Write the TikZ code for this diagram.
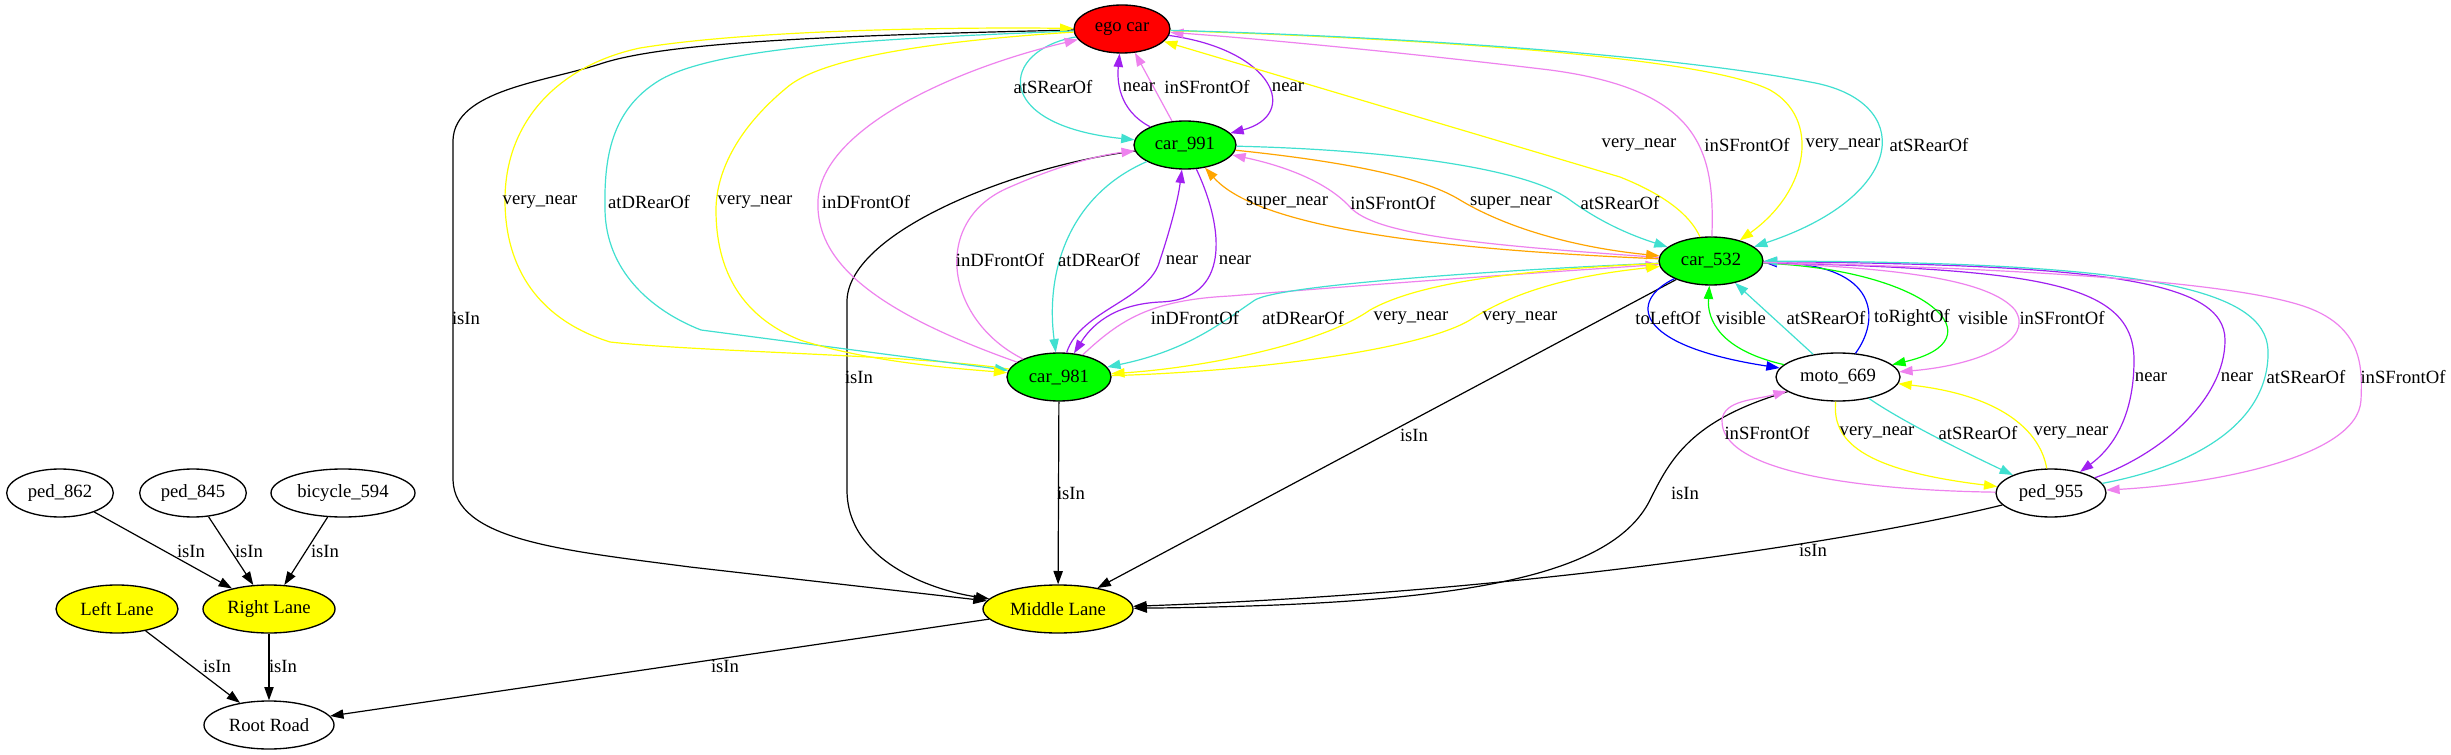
\documentclass[tikz,border=0pt]{standalone}
\usepackage{fontspec}
\setmainfont{Liberation Serif}
\usepackage{tikz}
\usetikzlibrary{shapes.geometric, arrows.meta}
\definecolor{gvred}{RGB}{255,0,0}
\definecolor{gvgreen}{RGB}{0,255,0}
\definecolor{gvyellow}{RGB}{255,255,0}
\definecolor{gvturq}{RGB}{64,224,208}
\definecolor{gvviolet}{RGB}{238,130,238}
\definecolor{gvpurple}{RGB}{160,32,240}
\definecolor{gvorange}{RGB}{255,165,0}
\definecolor{gvblue}{RGB}{0,0,255}
\tikzset{
obj/.style={ellipse, draw, line width=1pt, inner sep=0pt, minimum height=36pt, font=\fontsize{14}{16}\selectfont}, % every object of the scene
lbl/.style={inner sep=0pt, font=\fontsize{14}{16}\selectfont}, % text on a relation
rel/.style={-{Triangle[length=10pt,width=7pt]}, line width=0.9pt}, % a relation between two objects
}
\begin{document}
\begin{tikzpicture}[x=0.75pt, y=-0.75pt]
  \path[use as bounding box, fill=white] (0,0) rectangle (2451,755);

  % objects
  \node[obj, fill=gvred, minimum width=72pt] (ego) at (1122,29) {ego car};
  \node[obj, fill=gvgreen, minimum width=76.5pt] (car991) at (1185,145) {car\_991};
  \node[obj, fill=gvgreen, minimum width=78pt] (car532) at (1711,261) {car\_532};
  \node[obj, fill=gvgreen, minimum width=78pt] (car981) at (1059,377) {car\_981};
  \node[obj, minimum width=93pt] (moto669) at (1838,377) {moto\_669};
  \node[obj, minimum width=82.5pt] (ped955) at (2051,493) {ped\_955};
  \node[obj, fill=gvyellow, minimum width=112.5pt] (midlane) at (1058,609) {Middle Lane};
  \node[obj, minimum width=80pt] (ped862) at (60,493) {ped\_862};
  \node[obj, minimum width=80pt] (ped845) at (193,493) {ped\_845};
  \node[obj, minimum width=108pt] (bike594) at (343,493) {bicycle\_594};
  \node[obj, fill=gvyellow, minimum width=91.5pt] (leftlane) at (117,609) {Left Lane};
  \node[obj, fill=gvyellow, minimum width=99pt] (rightlane) at (269,609) {Right Lane};
  \node[obj, minimum width=97.5pt] (rootroad) at (269,725) {Root Road};

  % isIn
  \draw[rel] (ego) .. controls (800,36) and (660,44) .. (600,64) .. controls (545,82) and (455,90) .. (453,140) -- (453,480) .. controls (455,540) and (560,550) .. (690,567) -- (midlane);
  \draw[rel] (car991) .. controls (1020,165) and (850,230) .. (847,300) -- (847,490) .. controls (847,560) and (930,590) .. (midlane);
  \draw[rel] (car981) -- (midlane);
  \draw[rel] (car532) -- (midlane);
  \draw[rel] (moto669) .. controls (1690,420) and (1670,460) .. (1650,500) .. controls (1610,580) and (1450,605) .. (midlane);
  \draw[rel] (ped955) .. controls (1860,540) and (1530,592) .. (midlane);
  \draw[rel] (ped862) -- (rightlane);
  \draw[rel] (ped845) -- (rightlane);
  \draw[rel] (bike594) -- (rightlane);
  \draw[rel] (leftlane) -- (rootroad);
  \draw[rel] (rightlane) -- (rootroad);
  \draw[rel] (midlane) -- (rootroad);

  % ego car and car_991
  \draw[rel, gvturq] (ego) .. controls (1000,50) and (990,125) .. (car991); % atSRearOf
  \draw[rel, gvpurple] (car991) .. controls (1118,110) and (1117,80) .. (ego); % near
  \draw[rel, gvviolet] (car991) -- (ego); % inSFrontOf
  \draw[rel, gvpurple] (ego) .. controls (1275,50) and (1300,115) .. (car991); % near

  % ego car and car_532
  \draw[rel, gvyellow] (car532) .. controls (1690,215) and (1665,195) .. (1620,177) -- (ego); % very_near
  \draw[rel, gvviolet] (car532) .. controls (1715,150) and (1700,90) .. (1550,70) .. controls (1400,52) and (1250,38) .. (ego); % inSFrontOf
  \draw[rel, gvyellow] (ego) .. controls (1400,38) and (1700,55) .. (1770,90) .. controls (1820,118) and (1810,190) .. (car532); % very_near
  \draw[rel, gvturq] (ego) .. controls (1450,38) and (1700,60) .. (1810,82) .. controls (1915,100) and (1910,195) .. (car532); % atSRearOf

  % car_991 and car_532
  \draw[rel, gvorange] (car532) .. controls (1450,250) and (1260,230) .. (car991); % super_near
  \draw[rel, gvviolet] (car532) .. controls (1480,245) and (1375,235) .. (1350,207) .. controls (1325,180) and (1280,165) .. (car991); % inSFrontOf
  \draw[rel, gvorange] (car991) .. controls (1330,160) and (1420,175) .. (1460,200) .. controls (1510,230) and (1580,248) .. (car532); % super_near
  \draw[rel, gvturq] (car991) .. controls (1400,150) and (1530,170) .. (1570,200) .. controls (1600,222) and (1630,235) .. (car532); % atSRearOf

  % car_991 and car_981
  \draw[rel, gvviolet] (car981) .. controls (945,320) and (930,220) .. (1010,187) .. controls (1060,165) and (1100,155) .. (car991); % inDFrontOf
  \draw[rel, gvturq] (car991) .. controls (1070,195) and (1045,270) .. (car981); % atDRearOf
  \draw[rel, gvpurple] (car981) .. controls (1080,310) and (1150,300) .. (1160,260) .. controls (1170,230) and (1178,200) .. (car991); % near
  \draw[rel, gvpurple] (car991) .. controls (1225,230) and (1230,300) .. (1160,302) .. controls (1120,304) and (1095,320) .. (car981); % near

  % ego car and car_981
  \draw[rel, gvyellow] (car981) .. controls (920,355) and (700,352) .. (610,342) .. controls (540,320) and (505,270) .. (505,200) .. controls (505,120) and (560,65) .. (640,48) .. controls (750,30) and (950,27) .. (ego); % very_near
  \draw[rel, gvturq] (ego) .. controls (900,38) and (720,45) .. (660,80) .. controls (610,110) and (604,160) .. (605,210) .. controls (606,270) and (650,310) .. (701,330) -- (car981); % atDRearOf
  \draw[rel, gvyellow] (ego) .. controls (950,40) and (830,55) .. (790,85) .. controls (740,125) and (716,170) .. (716,210) .. controls (716,280) and (750,320) .. (800,340) .. controls (870,362) and (950,368) .. (car981); % very_near
  \draw[rel, gvviolet] (car981) .. controls (870,310) and (815,260) .. (818,200) .. controls (822,130) and (950,70) .. (ego); % inDFrontOf

  % car_981 and car_532
  \draw[rel, gvviolet] (car981) .. controls (1120,320) and (1150,300) .. (1230,296) .. controls (1400,282) and (1550,272) .. (car532); % inDFrontOf
  \draw[rel, gvturq] (car532) .. controls (1500,270) and (1280,285) .. (1255,300) .. controls (1225,320) and (1190,350) .. (car981); % atDRearOf
  \draw[rel, gvyellow] (car532) .. controls (1520,270) and (1420,282) .. (1370,310) .. controls (1320,345) and (1200,368) .. (car981); % very_near
  \draw[rel, gvyellow] (car981) .. controls (1250,372) and (1420,350) .. (1470,320) .. controls (1520,288) and (1580,275) .. (car532); % very_near

  % car_532 and moto_669
  \draw[rel, gvblue] (car532) .. controls (1630,300) and (1630,345) .. (moto669); % toLeftOf
  \draw[rel, gvgreen] (moto669) .. controls (1720,350) and (1707,320) .. (car532); % visible
  \draw[rel, gvturq] (moto669) -- (car532); % atSRearOf
  \draw[rel, gvblue] (moto669) .. controls (1880,320) and (1880,265) .. (car532); % toRightOf
  \draw[rel, gvgreen] (car532) .. controls (1930,270) and (2000,340) .. (moto669); % visible
  \draw[rel, gvviolet] (car532) .. controls (1900,268) and (1990,280) .. (2015,310) .. controls (2035,340) and (1980,365) .. (moto669); % inSFrontOf

  % car_532 and ped_955
  \draw[rel, gvpurple] (car532) .. controls (2030,270) and (2134,280) .. (2134,360) .. controls (2134,420) and (2110,450) .. (ped955); % near
  \draw[rel, gvpurple] (ped955) .. controls (2160,455) and (2225,400) .. (2225,340) .. controls (2225,280) and (2100,265) .. (car532); % near
  \draw[rel, gvturq] (ped955) .. controls (2200,465) and (2270,420) .. (2268,350) .. controls (2265,290) and (2150,262) .. (car532); % atSRearOf
  \draw[rel, gvviolet] (car532) .. controls (2000,268) and (2220,280) .. (2300,305) .. controls (2365,325) and (2362,370) .. (2361,400) .. controls (2358,460) and (2200,485) .. (ped955); % inSFrontOf

  % moto_669 and ped_955
  \draw[rel, gvviolet] (ped955) .. controls (1850,490) and (1720,470) .. (1722,420) .. controls (1724,400) and (1755,400) .. (moto669); % inSFrontOf
  \draw[rel, gvyellow] (moto669) .. controls (1832,440) and (1860,470) .. (ped955); % very_near
  \draw[rel, gvturq] (moto669) .. controls (1900,420) and (1960,450) .. (ped955); % atSRearOf
  \draw[rel, gvyellow] (ped955) .. controls (2040,430) and (2000,395) .. (moto669); % very_near

  % labels
  \node[lbl] (lb1) at (466,318) {isIn};
  \node[lbl] (lb2) at (859,377) {isIn};
  \node[lbl] (lb3) at (1071,493) {isIn};
  \node[lbl] (lb4) at (1414,435) {isIn};
  \node[lbl] (lb5) at (1685,493) {isIn};
  \node[lbl] (lb6) at (1813,550) {isIn};
  \node[lbl] (lb7) at (191,551) {isIn};
  \node[lbl] (lb8) at (249,551) {isIn};
  \node[lbl] (lb9) at (325,551) {isIn};
  \node[lbl] (lb10) at (217,666) {isIn};
  \node[lbl] (lb11) at (283,666) {isIn};
  \node[lbl] (lb12) at (725,666) {isIn};
  \node[lbl] (lb13) at (1053,87) {atSRearOf};
  \node[lbl] (lb14) at (1139,87) {near};
  \node[lbl] (lb15) at (1207,87) {inSFrontOf};
  \node[lbl] (lb16) at (1288,87) {near};
  \node[lbl] (lb17) at (540,202) {very\_near};
  \node[lbl] (lb18) at (649,202) {atDRearOf};
  \node[lbl] (lb19) at (755,202) {very\_near};
  \node[lbl] (lb20) at (866,202) {inDFrontOf};
  \node[lbl] (lb21) at (1287,203) {super\_near};
  \node[lbl] (lb22) at (1393,203) {inSFrontOf};
  \node[lbl] (lb23) at (1511,203) {super\_near};
  \node[lbl] (lb24) at (1620,203) {atSRearOf};
  \node[lbl] (lb25) at (1639,145) {very\_near};
  \node[lbl] (lb26) at (1747,145) {inSFrontOf};
  \node[lbl] (lb27) at (1843,145) {very\_near};
  \node[lbl] (lb28) at (1929,145) {atSRearOf};
  \node[lbl] (lb29) at (1000,260) {inDFrontOf};
  \node[lbl] (lb30) at (1099,260) {atDRearOf};
  \node[lbl] (lb31) at (1182,260) {near};
  \node[lbl] (lb32) at (1235,260) {near};
  \node[lbl] (lb33) at (1195,318) {inDFrontOf};
  \node[lbl] (lb34) at (1303,318) {atDRearOf};
  \node[lbl] (lb35) at (1411,318) {very\_near};
  \node[lbl] (lb36) at (1520,318) {very\_near};
  \node[lbl] (lb37) at (1668,318) {toLeftOf};
  \node[lbl] (lb38) at (1741,318) {visible};
  \node[lbl] (lb39) at (1826,318) {atSRearOf};
  \node[lbl] (lb40) at (1912,318) {toRightOf};
  \node[lbl] (lb41) at (1983,318) {visible};
  \node[lbl] (lb42) at (2062,318) {inSFrontOf};
  \node[lbl] (lb43) at (2151,377) {near};
  \node[lbl] (lb44) at (2237,377) {near};
  \node[lbl] (lb45) at (2306,377) {atSRearOf};
  \node[lbl] (lb46) at (2403,377) {inSFrontOf};
  \node[lbl] (lb47) at (1767,433) {inSFrontOf};
  \node[lbl] (lb48) at (1877,433) {very\_near};
  \node[lbl] (lb49) at (1978,433) {atSRearOf};
  \node[lbl] (lb50) at (2071,433) {very\_near};
\end{tikzpicture}
\end{document}
